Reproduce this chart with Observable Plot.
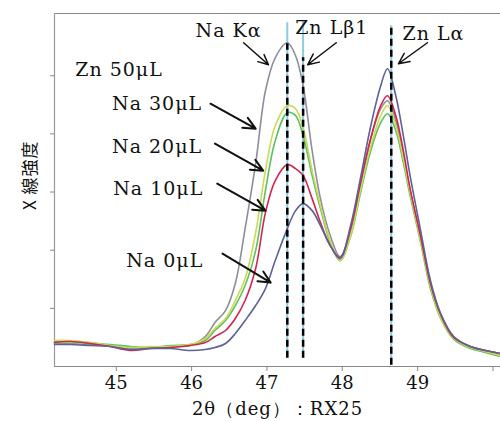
<!DOCTYPE html>
<html><head><meta charset="utf-8">
<script src="https://cdn.jsdelivr.net/npm/d3@7"></script>
<script src="https://cdn.jsdelivr.net/npm/@observablehq/plot@0.6"></script>
<style>body{margin:0;background:#fff} svg{display:block;background:#fff}</style>
</head><body><div id="chart"></div>
<script>
// 2θ (deg) sample positions
const twoTheta = [44.18,44.39,44.65,44.92,45.19,45.45,45.72,45.98,46.18,46.31,46.45,46.58,46.71,46.85,46.98,47.11,47.27,47.38,47.48,47.60,47.71,47.84,47.97,48.11,48.24,48.37,48.51,48.60,48.71,48.81,48.90,49.04,49.17,49.30,49.48,49.70,49.90,50.10];
// X-ray intensity (arbitrary units, axis ticks at 1..5)
const na30 = [0.430,0.430,0.412,0.361,0.309,0.326,0.344,0.361,0.515,0.756,0.962,1.426,2.371,3.488,4.742,5.309,5.567,5.344,4.828,3.711,2.887,2.251,1.890,2.302,3.110,3.883,4.433,4.570,4.227,3.625,3.024,2.199,1.392,0.876,0.481,0.344,0.275,0.206];
const naGreen = [0.395,0.395,0.378,0.378,0.344,0.326,0.361,0.378,0.447,0.619,0.790,1.048,1.392,1.993,3.024,3.883,4.364,4.313,3.969,3.282,2.715,2.131,1.821,2.234,2.973,3.677,4.192,4.347,4.055,3.505,2.938,2.131,1.340,0.842,0.464,0.309,0.241,0.172];
const na20 = [0.447,0.447,0.412,0.361,0.326,0.344,0.344,0.378,0.481,0.653,0.825,1.134,1.512,2.302,3.368,4.141,4.485,4.433,4.107,3.368,2.766,2.165,1.821,2.251,3.024,3.746,4.313,4.485,4.141,3.574,2.990,2.165,1.375,0.859,0.481,0.326,0.258,0.189];
const na10 = [0.412,0.430,0.395,0.344,0.275,0.309,0.326,0.361,0.412,0.515,0.619,0.825,1.134,1.684,2.646,3.196,3.471,3.402,3.282,2.887,2.474,2.079,1.873,2.371,3.144,3.883,4.485,4.656,4.313,3.711,3.058,2.234,1.426,0.911,0.498,0.344,0.275,0.223];
const na0 = [0.378,0.378,0.361,0.344,0.292,0.309,0.309,0.275,0.292,0.326,0.395,0.567,0.790,1.048,1.340,1.821,2.371,2.680,2.801,2.680,2.423,2.079,1.856,2.423,3.230,4.089,4.828,5.120,4.656,3.969,3.282,2.337,1.478,0.928,0.515,0.344,0.275,0.223];

const seriesKeys = ["Na 30μL","Na 20μL b","Na 20μL","Na 10μL","Na 0μL"];
const seriesValues = [na30, naGreen, na20, na10, na0];
const seriesColors = ["#8d8f9c","#5cc060","#c9db55","#d3234f","#5d6199"];

const xTicks = [45,46,47,48,49,50];
const xTickLabels = ["45","46","47","48","49",""];
const yTicks = [1,2,3,4,5];
const xDomain = [44.18, 50.10];
const yDomain = [0, 6.07];

// emission line positions
const lineNames = ["Na Kα","Zn Lβ1","Zn Lα"];
const linePos = [47.27, 47.48, 48.65];
const lineDashTop = [5.55, 5.31, 5.86];
const lineDashBottom = [0.14, 0.14, 0.02];
const lineBlueTop = [5.91, 5.95, 5.86];
const lineLabelX = [46.49, 47.86, 49.21];
const lineLabelY = [5.77, 5.82, 5.72];
const lineArrowFrom = [[46.69,5.567],[47.92,5.567],[49.13,5.567]];
const lineArrowTo = [[47.02,5.189],[47.54,5.189],[48.745,5.206]];

// sample labels
const sampleLabels = ["Na 30μL","Na 20μL","Na 10μL","Na 0μL"];
const sampleLabelX = [46.14, 46.14, 46.155, 46.155];
const sampleLabelY = [4.52, 3.78, 3.06, 1.82];
const sampleArrowFrom = [[46.25,4.519],[46.31,3.832],[46.34,3.144],[46.41,1.942]];
const sampleArrowTo = [[46.85,4.089],[46.95,3.368],[46.98,2.680],[47.05,1.443]];
const titleLabel = "Zn 50μL";
const titleX = 44.455, titleY = 5.10;
const yLabel = "X 線強度";
const xLabel = "2θ（deg）：RX25";

const data = seriesKeys.flatMap((s, i) => twoTheta.map((x, j) => ({series: s, x, y: seriesValues[i][j]})));
const lines = lineNames.map((n, i) => ({name: n, x: linePos[i], top: lineDashTop[i], bottom: lineDashBottom[i], blueTop: lineBlueTop[i], lx: lineLabelX[i], ly: lineLabelY[i], x1: lineArrowFrom[i][0], y1: lineArrowFrom[i][1], x2: lineArrowTo[i][0], y2: lineArrowTo[i][1]}));
const samples = sampleLabels.map((n, i) => ({name: n, lx: sampleLabelX[i], ly: sampleLabelY[i], x1: sampleArrowFrom[i][0], y1: sampleArrowFrom[i][1], x2: sampleArrowTo[i][0], y2: sampleArrowTo[i][1]}));

const serif = "DejaVu Serif, Liberation Serif, serif";

const chart = Plot.plot({
  width: 500,
  height: 421,
  marginLeft: 54,
  marginRight: 0,
  marginTop: 13,
  marginBottom: 55,
  style: {fontFamily: serif, fontSize: "18px", color: "#111", background: "#fff"},
  x: {domain: xDomain},
  y: {domain: yDomain},
  color: {domain: seriesKeys, range: seriesColors},
  marks: [
    Plot.axisX({ticks: xTicks, tickSize: 5, tickPadding: 5, stroke: "#888", fontSize: 18, tickFormat: d => xTickLabels[xTicks.indexOf(d)], label: xLabel, labelAnchor: "center", labelArrow: "none", labelOffset: 48, dx: 0}),
    Plot.axisY({ticks: yTicks, tickSize: 4, tickFormat: () => "", stroke: "#888", label: null}),
    Plot.text([yLabel], {frameAnchor: "left", rotate: -90, dx: -24, dy: 20, text: d => d, fontFamily: "Noto Sans CJK JP", fontSize: 17, fill: "#111"}),
    Plot.ruleY([yDomain[0]], {stroke: "#888", strokeWidth: 1.2}),
    Plot.ruleY([yDomain[1]], {stroke: "#888", strokeWidth: 1.2}),
    Plot.ruleX([xDomain[0]], {stroke: "#999", strokeWidth: 1.2}),
    Plot.ruleX(lines, {x: "x", y1: "bottom", y2: "blueTop", stroke: "#8ccbe0", strokeWidth: 2}),
    Plot.line(data, {x: "x", y: "y", z: "series", stroke: "series", strokeWidth: 1.6, curve: "catmull-rom"}),
    Plot.ruleX(lines, {x: "x", y1: "bottom", y2: "top", stroke: "#000", strokeWidth: 2.5, strokeDasharray: "7,4"}),
    Plot.text(lines, {x: "lx", y: "ly", text: "name", fontFamily: serif, fontSize: 19, textAnchor: "middle", fill: "#111"}),
    Plot.arrow(lines, {x1: "x1", y1: "y1", x2: "x2", y2: "y2", stroke: "#111", strokeWidth: 1.5, headLength: 12, headAngle: 50}),
    Plot.text(samples, {x: "lx", y: "ly", text: "name", fontFamily: serif, fontSize: 19, textAnchor: "end", fill: "#111"}),
    Plot.arrow(samples, {x1: "x1", y1: "y1", x2: "x2", y2: "y2", stroke: "#111", strokeWidth: 2, headLength: 10, headAngle: 50}),
    Plot.text([titleLabel], {x: titleX, y: titleY, text: d => d, fontFamily: serif, fontSize: 19, textAnchor: "start", fill: "#111"})
  ]
});
d3.select(chart).selectAll("g[aria-label='text'] text").style("letter-spacing", "1px");
d3.select(chart).selectAll("g[aria-label='x-axis label'] text").style("letter-spacing", "1px");
document.getElementById("chart").appendChild(chart);
</script>
</body></html>
